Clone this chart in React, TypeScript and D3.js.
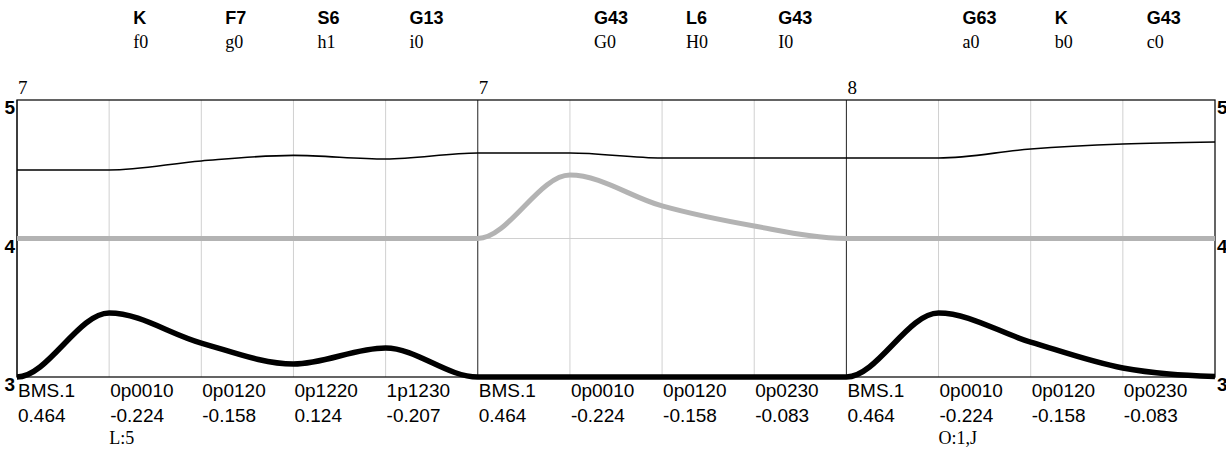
import React from "react";
import * as d3 from "d3";

const codes = ["BMS.1", "0p0010", "0p0120", "0p1220", "1p1230", "BMS.1", "0p0010", "0p0120", "0p0230", "BMS.1", "0p0010", "0p0120", "0p0230"];
const scores = ["0.464", "-0.224", "-0.158", "0.124", "-0.207", "0.464", "-0.224", "-0.158", "-0.083", "0.464", "-0.224", "-0.158", "-0.083"];
const headerBold = ["", "K", "F7", "S6", "G13", "", "G43", "L6", "G43", "", "G63", "K", "G43"];
const headerSub = ["", "f0", "g0", "h1", "i0", "", "G0", "H0", "I0", "", "a0", "b0", "c0"];
const notes = ["", "L:5", "", "", "", "", "", "", "", "", "O:1,J", "", ""];
const segmentStarts = [0, 5, 9];
const segmentLabels = ["7", "7", "8"];
const yTicks = [3, 4, 5];

// values at column positions -1..13 (first = lead-in before the left edge, last = right edge)
const thinSeries = [4.495, 4.495, 4.495, 4.56, 4.6, 4.574, 4.617, 4.617, 4.581, 4.581, 4.581, 4.581, 4.646, 4.682, 4.697];
const graySeries = [4, 4, 4, 4, 4, 4, 4, 4.458, 4.235, 4.09, 4, 4, 4, 4, 4];
const thickSeries = [3, 3, 3.462, 3.245, 3.094, 3.209, 3, 3, 3, 3, 3, 3.462, 3.252, 3.065, 3.003];

const W = 1226;
const H = 451;
const left = 17;
const right = 1215;
const top = 100;
const bottom = 377;

export default function App() {
  const x = d3.scaleLinear().domain([0, codes.length]).range([left, right]);
  const y = d3.scaleLinear().domain([3, 5]).range([bottom, top]);
  const line = d3
    .line<number>()
    .x((_, i) => x(i - 1))
    .y((d) => y(d))
    .curve(d3.curveMonotoneX);
  const cols = d3.range(codes.length);
  const sans = "Liberation Sans, Arial, sans-serif";
  const serif = "Liberation Serif, Times New Roman, serif";

  return (
    <svg
      width={W}
      height={H}
      style={{ position: "absolute", left: 0, top: 0, background: "#fff" }}
    >
      <defs>
        <clipPath id="plotclip">
          <rect x={left} y={0} width={right - left} height={H} />
        </clipPath>
      </defs>
      {/* grid */}
      {cols.map((i) => (
        <line
          key={"g" + i}
          x1={x(i)}
          x2={x(i)}
          y1={top}
          y2={bottom}
          stroke={segmentStarts.includes(i) ? "#222" : "#d0d0d0"}
          strokeWidth={1}
        />
      ))}
      <line x1={left} x2={right} y1={y(4)} y2={y(4)} stroke="#d0d0d0" strokeWidth={1} />
      <rect x={left} y={top} width={right - left} height={bottom - top} fill="none" stroke="#111" strokeWidth={1.3} />

      {/* series */}
      <g clipPath="url(#plotclip)">
        <path d={line(graySeries) || ""} fill="none" stroke="#b3b3b3" strokeWidth={5} />
        <path d={line(thickSeries) || ""} fill="none" stroke="#000" strokeWidth={5.5} />
        <path d={line(thinSeries) || ""} fill="none" stroke="#000" strokeWidth={1.6} />
      </g>

      {/* y labels */}
      {yTicks.map((t) => (
        <g key={"y" + t}>
          <text x={left - 2} y={y(t) + 14} textAnchor="end" fontFamily={sans} fontWeight="bold" style={{ fontSize: "19px" }}>
            {t}
          </text>
          <text x={right + 2} y={y(t) + 14} textAnchor="start" fontFamily={sans} fontWeight="bold" style={{ fontSize: "19px" }}>
            {t}
          </text>
        </g>
      ))}

      {/* segment labels */}
      {segmentStarts.map((s, k) => (
        <text key={"s" + k} x={x(s) + 1} y={94} fontFamily={serif} fontSize={19}>
          {segmentLabels[k]}
        </text>
      ))}

      {/* header */}
      {cols.map((i) => (
        <g key={"h" + i}>
          <text x={x(i) + 24} y={24} fontFamily={sans} fontWeight="bold" fontSize={18}>
            {headerBold[i]}
          </text>
          <text x={x(i) + 24} y={48} fontFamily={serif} fontSize={18}>
            {headerSub[i]}
          </text>
        </g>
      ))}

      {/* bottom labels */}
      {cols.map((i) => (
        <g key={"b" + i}>
          <text x={x(i) + 1} y={397} fontFamily={sans} fontSize={19}>
            {codes[i]}
          </text>
          <text x={x(i) + 1} y={422} fontFamily={sans} fontSize={19}>
            {scores[i]}
          </text>
          <text x={x(i)} y={444} fontFamily={serif} fontSize={18}>
            {notes[i]}
          </text>
        </g>
      ))}
    </svg>
  );
}
